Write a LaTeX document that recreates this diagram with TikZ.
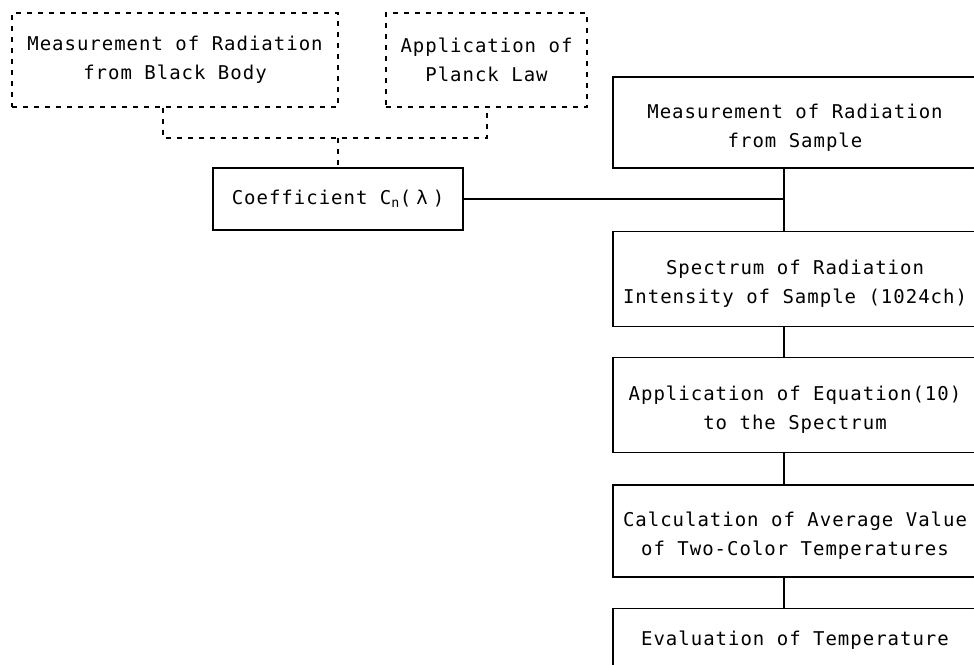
\documentclass[tikz,border=0pt]{standalone}
\usepackage{fontspec}
\newfontfamily\flowfont[LetterSpace=5.2]{DejaVu Sans Mono}
\newcommand{\toplift}{\rule{0pt}{24pt}}

\tikzset{
  stepbox/.style={draw, line width=1.2pt, inner sep=0pt, align=center,
    font=\flowfont\fontsize{19}{29}\selectfont},
  inputbox/.style={stepbox, dash pattern=on 5pt off 6pt},
  mainbox/.style={stepbox, minimum width=364pt},
  link/.style={line width=1.2pt},
  dashlink/.style={line width=1.2pt, dash pattern=on 5pt off 6pt}
}

\begin{document}
\begin{tikzpicture}[x=1pt,y=-1pt]
  \useasboundingbox (0,0) rectangle (974,664);
  \clip (0,0) rectangle (974,664);

  %% calibration side
  \node[inputbox, minimum width=326pt, minimum height=94pt] (blackbody) at (175,60)
    {Measurement of Radiation\\from Black Body};
  \node[inputbox, minimum width=201pt, minimum height=94pt] (planck) at (486.5,60)
    {Application of\\Planck Law};
  \node[stepbox, minimum width=250pt, minimum height=62pt] (coef) at (338,199)
    {Coefficient C\textsubscript{n}(\hspace{5pt}λ\hspace{5pt})};

  \coordinate (joinL) at (163,138);
  \coordinate (joinR) at (487,138);
  \coordinate (joinM) at (338,138);

  \draw[dashlink] (blackbody.south -| joinL) -- (joinL) -- (joinR) -- (planck.south -| joinR);
  \draw[dashlink] (joinM) -- (coef.north);

  %% sample side
  \node[mainbox, minimum height=91pt] (sample) at (795,122.5)
    {\toplift Measurement of Radiation\\from Sample};
  \node[mainbox, minimum height=95pt] (spectrum) at (795,279)
    {\toplift Spectrum of Radiation\\Intensity of Sample (1024ch)};
  \node[mainbox, minimum height=95pt] (equation) at (795,405)
    {\toplift Application of Equation(10)\\to the Spectrum};
  \node[mainbox, minimum height=92pt] (average) at (795,531)
    {\toplift Calculation of Average Value\\of Two-Color Temperatures};
  \node[mainbox, minimum height=88pt, anchor=north] (evaluation) at (795,608)
    {Evaluation of Temperature\\~};

  \coordinate (trunk) at (784,199);

  \draw[link] (coef.east) -- (trunk); %% coefficient -> main line
  \foreach \a/\b in {sample/spectrum, spectrum/equation, equation/average, average/evaluation}
    \draw[link] (\a.south -| trunk) -- (\b.north -| trunk);

\end{tikzpicture}
\end{document}
